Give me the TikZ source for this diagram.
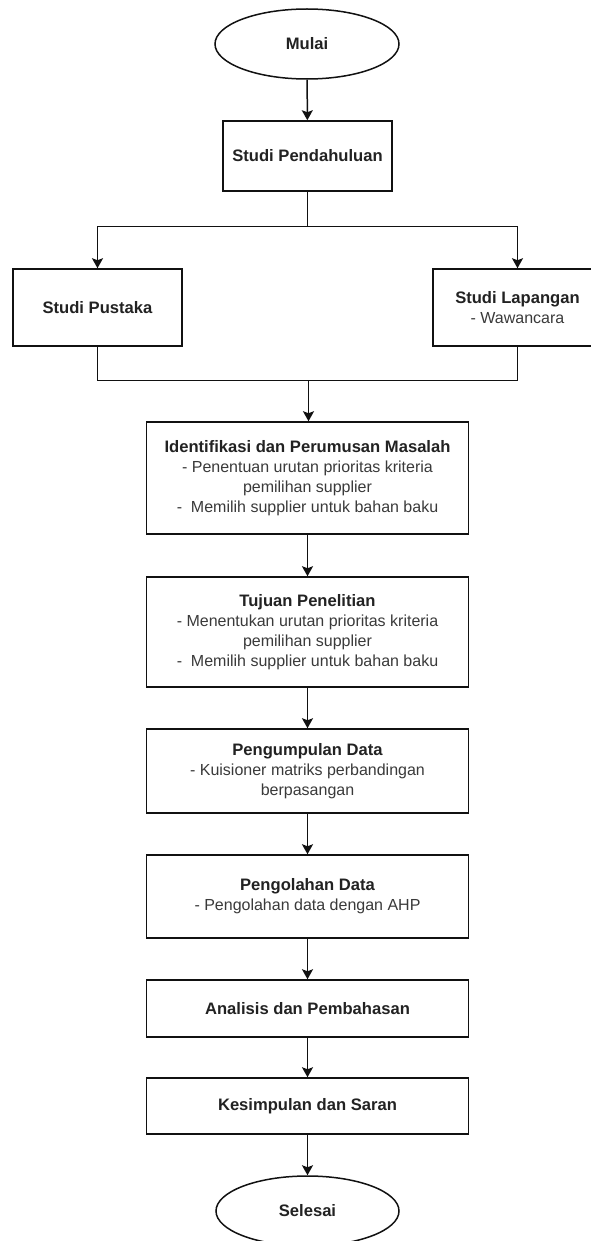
\documentclass[tikz,border=0pt]{standalone}
\usepackage{fontspec}
\setmainfont{Liberation Sans}
\usetikzlibrary{shapes.geometric,arrows.meta}
\definecolor{linec}{HTML}{111111}
\definecolor{titlec}{HTML}{222222}
\definecolor{bodyc}{HTML}{3A3A3A}
\tikzset{
  box/.style={draw=linec,line width=1.5pt,rectangle,inner sep=0pt,align=center,
    text=titlec,font=\fontsize{16}{19.8}\selectfont},
  term/.style={draw=linec,line width=1.5pt,ellipse,inner sep=0pt,minimum width=184pt,
    minimum height=70pt,text=titlec,font=\fontsize{16.6}{19.8}\selectfont\bfseries},
  conn/.style={draw=linec,line width=1.5pt},
  arr/.style={conn,-{Stealth[width=11pt,length=10pt,inset=2pt]}},
}
\newcommand{\ttl}[1]{{\fontsize{16.6}{19.8}\selectfont\bfseries #1}}
\newcommand{\bdy}[1]{{\color{bodyc}#1}}
\begin{document}
\begin{tikzpicture}[x=1pt,y=-1pt]
\useasboundingbox[fill=white] (0,0) rectangle (590,1241);
\node[term] (mulai) at (307,44) {Mulai};
\node[box,minimum width=169pt,minimum height=70pt] (pend) at (307.5,156) {\ttl{Studi Pendahuluan}};
\node[box,minimum width=169pt,minimum height=77pt] (pustaka) at (97.5,307.5) {\ttl{Studi Pustaka}};
\node[box,minimum width=169pt,minimum height=77pt] (lapangan) at (517.5,307.5) {\ttl{Studi Lapangan}\\\bdy{- Wawancara}};
\node[box,minimum width=322pt,minimum height=112pt] (ident) at (307.5,478) {\ttl{Identifikasi dan Perumusan Masalah}\\\bdy{- Penentuan urutan prioritas kriteria}\\\bdy{pemilihan supplier}\\\bdy{-\ \ Memilih supplier untuk bahan baku}};
\node[box,minimum width=322pt,minimum height=110pt] (tujuan) at (307.5,632) {\ttl{Tujuan Penelitian}\\\bdy{- Menentukan urutan prioritas kriteria}\\\bdy{pemilihan supplier}\\\bdy{-\ \ Memilih supplier untuk bahan baku}};
\node[box,minimum width=322pt,minimum height=84pt] (kumpul) at (307.5,771) {\ttl{Pengumpulan Data}\\\bdy{- Kuisioner matriks perbandingan}\\\bdy{berpasangan}};
\node[box,minimum width=322pt,minimum height=83pt] (olah) at (307.5,896.5) {\ttl{Pengolahan Data}\\\bdy{- Pengolahan data dengan AHP}};
\node[box,minimum width=322pt,minimum height=57pt] (analisis) at (307.5,1008.5) {\ttl{Analisis dan Pembahasan}};
\node[box,minimum width=322pt,minimum height=56pt] (simpul) at (307.5,1106) {\ttl{Kesimpulan dan Saran}};
\node[term,minimum width=183pt] (selesai) at (307.5,1211) {Selesai};
\coordinate (split) at (307.5,226.7);
\coordinate (merge) at (308.5,380.7);
\draw[arr] (mulai) -- (pend);
\draw[conn] (pend.south) -- (split);
\draw[arr] (split) -| (pustaka.north);
\draw[arr] (split) -| (lapangan.north);
\draw[conn] (pustaka.south) |- (merge);
\draw[conn] (lapangan.south) |- (merge);
\draw[arr] (merge) -- (merge |- ident.north);
\draw[arr] (ident) -- (tujuan);
\draw[arr] (tujuan) -- (kumpul);
\draw[arr] (kumpul) -- (olah);
\draw[arr] (olah) -- (analisis);
\draw[arr] (analisis) -- (simpul);
\draw[arr] (simpul) -- (selesai);
\end{tikzpicture}
\end{document}
